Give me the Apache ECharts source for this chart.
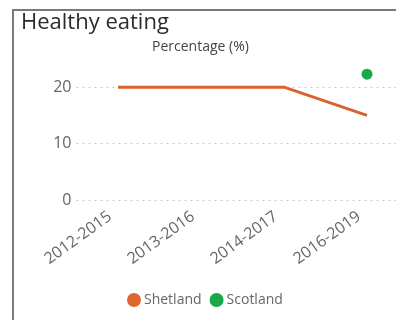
<!DOCTYPE html>
<html>
<head>
<meta charset="utf-8">
<script src="https://cdn.jsdelivr.net/npm/echarts@6/dist/echarts.min.js"></script>
<style>
  html, body { margin: 0; padding: 0; background: #fff; }
  #chart { width: 396px; height: 320px; }
</style>
</head>
<body>
<div id="chart"></div>
<script>
// Survey periods and the share (%) reporting healthy eating
const periods = ['2012-2015', '2013-2016', '2014-2017', '2016-2019'];
const shetland = [20, 20, 20, 15];
const scotland = [null, null, null, 22.3];
const yTicks = [0, 10, 20];

const chart = echarts.init(document.getElementById('chart'));
const font = "'Open Sans', 'Noto Sans', sans-serif";

chart.setOption({
  animation: false,
  textStyle: { fontFamily: font },
  graphic: [
    {
      type: 'polyline',
      shape: { points: [[13, 330], [13, 10], [400, 10]] },
      style: { stroke: '#7a7a7a', lineWidth: 2, fill: null }
    },
    {
      type: 'text', left: 21, top: 12,
      style: { text: 'Healthy eating', fill: '#2b2b2b', font: "22px " + font }
    },
    {
      type: 'text', left: 152, top: 40,
      style: { text: 'Percentage (%)', fill: '#444', font: "14px " + font }
    }
  ],
  grid: {
    left: 76.5, width: 332, top: 59, bottom: 120,
    containLabel: false, outerBoundsMode: 'none'
  },
  legend: {
    top: 288, left: 122,
    icon: 'circle', itemWidth: 14, itemHeight: 14, itemGap: 8,
    textStyle: { color: '#666', fontSize: 14, fontFamily: font, padding: [0, 0, 0, -2] },
    data: ['Shetland', 'Scotland']
  },
  xAxis: {
    type: 'category',
    data: periods,
    boundaryGap: true,
    axisLine: { show: false },
    axisTick: { show: false },
    axisLabel: {
      rotate: 36, color: '#666', fontSize: 16, margin: 9,
      padding: [0, 10, 0, 0], interval: 0
    }
  },
  yAxis: {
    type: 'value',
    min: 0, max: 25, interval: 10,
    axisLine: { show: false },
    axisTick: { show: false },
    axisLabel: {
      color: '#666', fontSize: 16, margin: 5, showMaxLabel: false,
      formatter: v => (yTicks.includes(v) ? String(v) : '')
    },
    splitLine: {
      showMaxLine: false,
      lineStyle: { color: '#c8c8c8', type: [2, 4], width: 1 }
    }
  },
  series: [
    {
      name: 'Shetland', type: 'line', data: shetland,
      color: '#E0662F',
      symbol: 'none', lineStyle: { width: 3, color: '#DA6230' }
    },
    {
      name: 'Scotland', type: 'line', data: scotland,
      color: '#17A84A',
      symbol: 'circle', symbolSize: 11, showSymbol: true,
      lineStyle: { width: 0 },
      itemStyle: { color: '#17A84A' }
    }
  ]
});
</script>
</body>
</html>
